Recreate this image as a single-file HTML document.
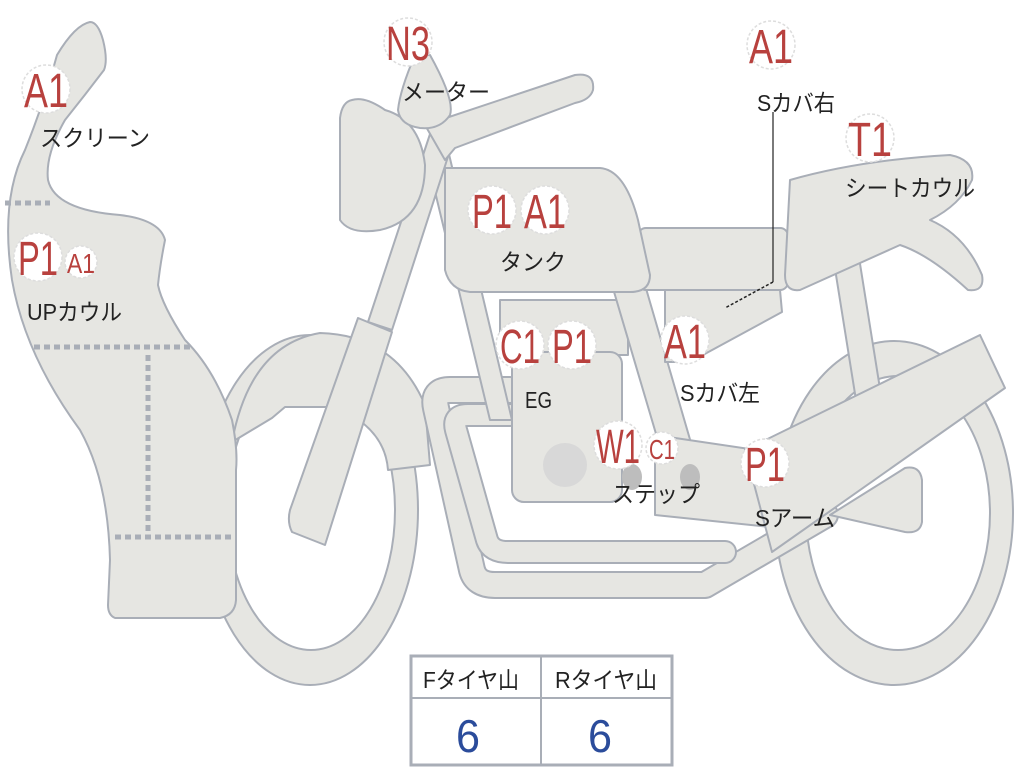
<!DOCTYPE html>
<html><head><meta charset="utf-8"><style>
html,body{margin:0;padding:0;background:#fff;width:1024px;height:768px;overflow:hidden}
svg{display:block}
.s{fill:#e6e6e2;stroke:#a9aeb7;stroke-width:2;stroke-linejoin:round}
.c{fill:#fff;stroke:#ddd;stroke-width:1.5;stroke-dasharray:3 2}
.r{fill:#b8413e;font-family:"Liberation Sans",sans-serif}
.k{fill:#222;font-family:"Liberation Sans","Noto Sans CJK JP",sans-serif;font-size:23px}
.d{stroke:#a9aeb7;stroke-width:5;stroke-dasharray:6 4;fill:none}
</style></head><body>
<svg width="1024" height="768" viewBox="0 0 1024 768" xmlns="http://www.w3.org/2000/svg">
<!-- rear wheel -->
<path class="s" fill-rule="evenodd" d="M775,513 a119,172 0 1,0 238,0 a119,172 0 1,0 -238,0 Z M806,513 a92,137 0 1,0 184,0 a92,137 0 1,0 -184,0 Z"/>
<!-- front wheel -->
<path class="s" fill-rule="evenodd" d="M202,510 a108,175 0 1,0 216,0 a108,175 0 1,0 -216,0 Z M227,510 a84,140 0 1,0 168,0 a84,140 0 1,0 -168,0 Z"/>
<!-- front fender -->
<path class="s" d="M232,442 Q250,345 320,333 Q395,335 425,405 L430,465 L388,470 Q385,428 335,407 L285,407 L272,418 Z"/>
<!-- exhaust pipes -->
<g fill="none" stroke-linejoin="round" stroke-linecap="round">
<path d="M510,390 L450,390 Q432,390 436,408 L472,570 Q476,585 495,585 L705,585 L825,515" stroke="#a9aeb7" stroke-width="28"/>
<path d="M510,390 L450,390 Q432,390 436,408 L472,570 Q476,585 495,585 L705,585 L825,515" stroke="#e6e6e2" stroke-width="24"/>
<path d="M510,415 L468,415 Q452,415 456,430 L487,540 Q491,552 508,552 L725,552" stroke="#a9aeb7" stroke-width="24"/>
<path d="M510,415 L468,415 Q452,415 456,430 L487,540 Q491,552 508,552 L725,552" stroke="#e6e6e2" stroke-width="20"/>
</g>
<!-- frame down tube -->
<polygon class="s" points="425,150 448,150 512,420 490,420"/>
<!-- rear shock -->
<polygon class="s" points="832,250 857,245 885,420 860,425"/>
<!-- engine -->
<rect class="s" x="500" y="300" width="128" height="55"/>
<rect class="s" x="512" y="352" width="110" height="150" rx="12"/>
<circle cx="565" cy="465" r="22" fill="#d8d8d8"/>
<!-- frame tube to step -->
<polygon class="s" points="612,285 645,285 712,515 680,515"/>
<!-- step bar -->
<polygon class="s" points="655,435 790,455 780,528 655,515"/>
<ellipse cx="632" cy="477" rx="10" ry="13" fill="#bdbdbd"/>
<ellipse cx="690" cy="477" rx="10" ry="13" fill="#bdbdbd"/>
<!-- axle plate -->
<path class="s" d="M830,515 L905,468 Q920,465 922,480 L922,522 Q920,534 905,532 Z"/>
<!-- swing arm -->
<polygon class="s" points="745,450 980,335 1005,388 772,552"/>
<!-- side cover -->
<polygon class="s" points="665,290 780,290 782,312 690,362 665,362"/>
<!-- seat -->
<rect class="s" x="638" y="228" width="150" height="62" rx="8"/>
<!-- seat cowl -->
<path class="s" d="M790,180 Q860,160 950,155 Q975,160 972,180 Q960,205 930,220 Q965,235 982,275 Q985,292 968,290 Q930,255 900,245 L800,290 Q785,292 785,275 Z"/>
<!-- tank -->
<path class="s" d="M445,168 L600,168 Q625,170 638,220 L650,275 Q650,292 630,292 L470,292 Q450,290 445,270 Z"/>
<!-- front fork -->
<polygon class="s" points="432,128 455,135 392,330 368,322"/>
<path class="s" d="M358,318 L392,332 L325,545 L292,532 Q287,522 290,510 Z"/>
<!-- headlight -->
<path class="s" d="M352,100 Q365,96 385,110 Q420,120 425,165 Q425,220 380,230 Q350,235 340,220 L340,118 Q342,102 352,100 Z"/>
<!-- handlebar -->
<path class="s" d="M425,125 L575,75 Q595,72 593,90 Q590,100 575,103 L455,148 L445,160 Z"/>
<!-- meter -->
<path class="s" d="M415,55 L430,55 Q455,100 450,115 Q440,130 420,128 Q400,125 398,110 Q400,90 415,55 Z"/>
<!-- UP cowl -->
<path class="s" d="M57,55 Q75,25 90,22 Q98,22 103,40 Q108,60 104,70 Q85,95 65,120 Q45,155 48,180 Q55,210 120,215 Q160,220 165,240 Q160,265 158,285 Q162,305 185,340 Q215,370 232,420 Q238,450 236,470 L236,600 Q235,615 220,618 L115,618 Q108,615 108,605 L110,560 Q108,480 80,430 Q25,355 12,280 Q0,200 25,150 Q45,100 57,55 Z"/>
<line class="d" x1="5" y1="203" x2="50" y2="203"/>
<line class="d" x1="34" y1="347" x2="192" y2="347"/>
<line class="d" x1="148" y1="355" x2="148" y2="532"/>
<line class="d" x1="115" y1="537" x2="235" y2="537"/>
<!-- S cover right leader -->
<polyline points="773,112 773,282" stroke="#222" stroke-width="1.2" fill="none"/>
<line x1="773" y1="282" x2="725" y2="308" stroke="#222" stroke-width="1.5" stroke-dasharray="3 2"/>
<!-- badges -->
<g>
<circle class="c" cx="46" cy="89" r="24"/><text class="r" x="46" y="107" font-size="48" text-anchor="middle" textLength="44" lengthAdjust="spacingAndGlyphs">A1</text>
<circle class="c" cx="408" cy="42" r="24"/><text class="r" x="408" y="60" font-size="48" text-anchor="middle" textLength="44" lengthAdjust="spacingAndGlyphs">N3</text>
<circle class="c" cx="771" cy="45" r="24"/><text class="r" x="771" y="63" font-size="48" text-anchor="middle" textLength="44" lengthAdjust="spacingAndGlyphs">A1</text>
<circle class="c" cx="870" cy="138" r="24"/><text class="r" x="870" y="156" font-size="48" text-anchor="middle" textLength="44" lengthAdjust="spacingAndGlyphs">T1</text>
<circle class="c" cx="492" cy="210" r="24"/><text class="r" x="492" y="228" font-size="48" text-anchor="middle" textLength="40" lengthAdjust="spacingAndGlyphs">P1</text>
<circle class="c" cx="545" cy="210" r="24"/><text class="r" x="545" y="228" font-size="48" text-anchor="middle" textLength="42" lengthAdjust="spacingAndGlyphs">A1</text>
<circle class="c" cx="38" cy="257" r="24"/><text class="r" x="38" y="275" font-size="48" text-anchor="middle" textLength="40" lengthAdjust="spacingAndGlyphs">P1</text>
<circle class="c" cx="81" cy="262" r="16"/><text class="r" x="81" y="273" font-size="28" text-anchor="middle" textLength="28" lengthAdjust="spacingAndGlyphs">A1</text>
<circle class="c" cx="520" cy="345" r="24"/><text class="r" x="520" y="363" font-size="48" text-anchor="middle" textLength="40" lengthAdjust="spacingAndGlyphs">C1</text>
<circle class="c" cx="572" cy="345" r="24"/><text class="r" x="572" y="363" font-size="48" text-anchor="middle" textLength="40" lengthAdjust="spacingAndGlyphs">P1</text>
<circle class="c" cx="685" cy="340" r="24"/><text class="r" x="685" y="358" font-size="48" text-anchor="middle" textLength="42" lengthAdjust="spacingAndGlyphs">A1</text>
<circle class="c" cx="618" cy="445" r="24"/><text class="r" x="618" y="463" font-size="48" text-anchor="middle" textLength="44" lengthAdjust="spacingAndGlyphs">W1</text>
<circle class="c" cx="662" cy="448" r="16"/><text class="r" x="662" y="459" font-size="28" text-anchor="middle" textLength="26" lengthAdjust="spacingAndGlyphs">C1</text>
<circle class="c" cx="765" cy="463" r="24"/><text class="r" x="765" y="481" font-size="48" text-anchor="middle" textLength="40" lengthAdjust="spacingAndGlyphs">P1</text>
</g>
<text class="k" x="40" y="146" textLength="110" lengthAdjust="spacingAndGlyphs">スクリーン</text>
<text class="k" x="402" y="100" textLength="88" lengthAdjust="spacingAndGlyphs">メーター</text>
<text class="k" x="757" y="111" textLength="78" lengthAdjust="spacingAndGlyphs">Sカバ右</text>
<text class="k" x="845" y="196" textLength="130" lengthAdjust="spacingAndGlyphs">シートカウル</text>
<text class="k" x="500" y="270" textLength="66" lengthAdjust="spacingAndGlyphs">タンク</text>
<text class="k" x="27" y="320" textLength="95" lengthAdjust="spacingAndGlyphs">UPカウル</text>
<text class="k" x="525" y="408" textLength="27" lengthAdjust="spacingAndGlyphs">EG</text>
<text class="k" x="680" y="401" textLength="80" lengthAdjust="spacingAndGlyphs">Sカバ左</text>
<text class="k" x="612" y="502" textLength="88" lengthAdjust="spacingAndGlyphs">ステップ</text>
<text class="k" x="755" y="526" textLength="80" lengthAdjust="spacingAndGlyphs">Sアーム</text>
<!-- table -->
<rect x="411" y="656" width="261" height="109" fill="#fff" stroke="#a9aeb7" stroke-width="3"/>
<line x1="411" y1="698" x2="672" y2="698" stroke="#a9aeb7" stroke-width="2"/>
<line x1="541" y1="656" x2="541" y2="765" stroke="#a9aeb7" stroke-width="2"/>
<text class="k" x="423" y="688" textLength="96" lengthAdjust="spacingAndGlyphs">Fタイヤ山</text>
<text class="k" x="555" y="688" textLength="102" lengthAdjust="spacingAndGlyphs">Rタイヤ山</text>
<text x="468" y="752" font-size="46" fill="#2b4c9b" font-family="Liberation Sans,sans-serif" text-anchor="middle" textLength="24" lengthAdjust="spacingAndGlyphs">6</text>
<text x="600" y="752" font-size="46" fill="#2b4c9b" font-family="Liberation Sans,sans-serif" text-anchor="middle" textLength="24" lengthAdjust="spacingAndGlyphs">6</text>
</svg>
</body></html>
